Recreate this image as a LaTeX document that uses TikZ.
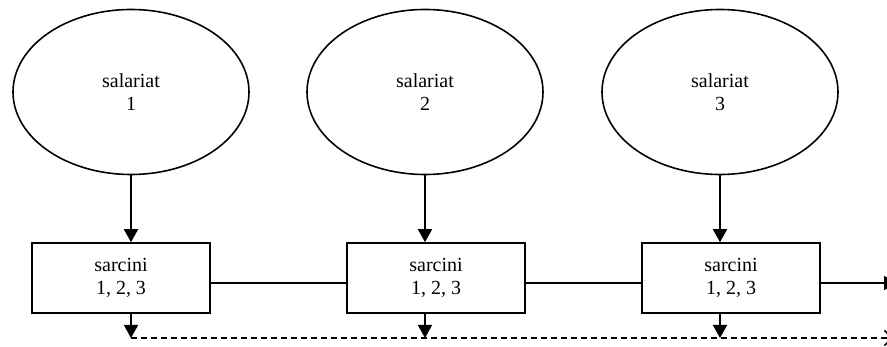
\documentclass[tikz,border=0pt]{standalone}
\usepackage{fontspec}
\setmainfont{Liberation Serif}
\usetikzlibrary{arrows.meta,shapes.geometric}

\begin{document}
\begin{tikzpicture}[x=0.6pt, y=-0.6pt, line width=0.95pt,
  txt/.style={align=center, font=\fontsize{12}{13.8}\selectfont},
  worker/.style={txt, draw, ellipse, minimum width=141.6pt, minimum height=99pt, inner sep=0pt},
  taskbox/.style={txt, draw, rectangle, minimum width=106.8pt, minimum height=42pt, inner sep=0pt},
  flow/.style={-{Triangle[length=7.8pt,width=8.4pt]}},
  nextline/.style={dashed, dash pattern=on 3.6pt off 2.4pt, -{Straight Barb[length=4.5pt,width=9pt]}}]
\useasboundingbox (0,0) rectangle (887,347);

% employees
\node[worker] (emp1) at (131,92) {salariat\\1};
\node[worker] (emp2) at (425,92) {salariat\\2};
\node[worker] (emp3) at (720,92) {salariat\\3};

% task boxes
\node[taskbox] (task1) at (121,278) {sarcini\\1, 2, 3};
\node[taskbox] (task2) at (436,278) {sarcini\\1, 2, 3};
\node[taskbox] (task3) at (731,278) {sarcini\\1, 2, 3};

\coordinate (mid) at (0,283);
\coordinate (out) at (897,283);
\coordinate (low) at (0,338);
\coordinate (lowend) at (893,338);

% employee -> tasks
\draw[flow] (emp1.south) -- (emp1.south |- task1.north);
\draw[flow] (emp2.south) -- (emp2.south |- task2.north);
\draw[flow] (emp3.south) -- (emp3.south |- task3.north);

% chain of boxes
\draw (task1.east |- mid) -- (task2.west |- mid);
\draw (task2.east |- mid) -- (task3.west |- mid);
\draw[flow] (task3.east |- mid) -- (out);

% down to the dashed line
\draw[flow] (emp1.south |- task1.south) -- (emp1.south |- low);
\draw[flow] (emp2.south |- task2.south) -- (emp2.south |- low);
\draw[flow] (emp3.south |- task3.south) -- (emp3.south |- low);
\draw[nextline] (emp1.south |- low) -- (lowend);
\end{tikzpicture}
\end{document}
